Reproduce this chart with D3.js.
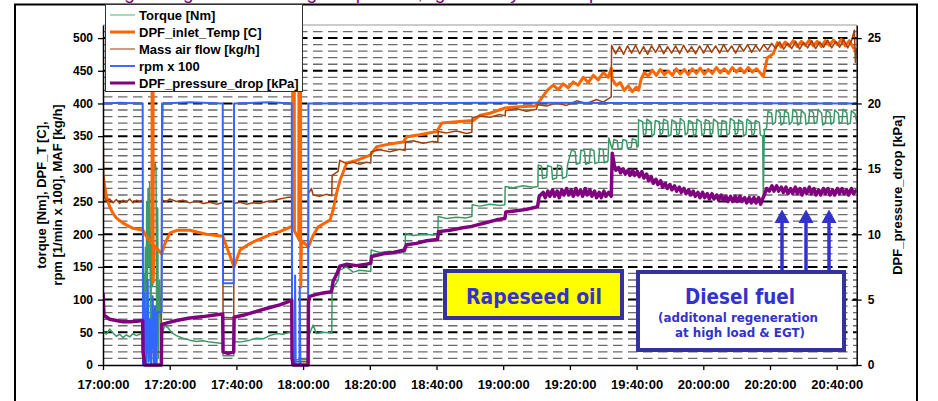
<!DOCTYPE html>
<html><head><meta charset="utf-8">
<script src="https://cdn.jsdelivr.net/npm/d3@7"></script>
<style>
html,body{margin:0;padding:0;background:#fff;}
svg{display:block;}
text{font-family:"Liberation Sans",Arial,sans-serif;font-weight:bold;}
</style></head><body>
<svg id="chart" width="938" height="401"></svg>
<script>
// ---------- DATA (minutes after 17:00:00, value) ----------
const xTickLabels = ["17:00:00","17:20:00","17:40:00","18:00:00","18:20:00","18:40:00","19:00:00","19:20:00","19:40:00","20:00:00","20:20:00","20:40:00"];
const leftTicks = [0,50,100,150,200,250,300,350,400,450,500];
const rightTicks = [0,5,10,15,20,25];
const seriesNames = ["Torque [Nm]","DPF_inlet_Temp [C]","Mass air flow [kg/h]","rpm x 100","DPF_pressure_drop [kPa]"];
const seriesColors = ["#3a9a68","#ff6600","#a3400c","#3366ff","#800080"];
const legendColors = ["#7fd0a4","#ff6600","#c07a5a","#3d6dff","#800080"];
const seriesWidths = [1.5,3,1.5,2,3.5];
const legendWidths = [1.5,3,1.5,2,3];
const leftTitle = ["torque [Nm], DPF_T [C],","rpm [1/min x 100], MAF [kg/h]"];
const rightTitle = "DPF_pressure_drop [kPa]";
const titleText = "Long-term engine test: DPF loading with rapeseed oil, regeneration by diesel fuel operation";

const torque = [[0,52],[1,47],[2,55],[3,49],[4,44],[5,47],[6,42],[7,46],[8,43],[9,48],[10,45],[11,47],[11.9,50],[12.0,40],[12.2,140],[12.4,20],[12.7,180],[12.9,60],[13.1,250],[13.3,100],[13.5,270],[13.8,150],[14.0,280],[14.3,10],[14.6,240],[14.9,120],[15.2,290],[15.6,310],[15.9,300],[16.1,30],[16.4,240],[16.6,10],[17.0,130],[17.4,60],[17.7,48],[18.5,60],[19.5,57],[20.5,50],[22,45],[24,41],[26,38],[28,36],[30,37],[32,35],[34,34],[35.9,33],[36.0,14],[39.2,14],[39.3,36],[41,35],[44,38],[46,41],[48,40],[50,45],[52,48],[54,47],[56.5,51],[56.7,8],[61.5,8],[61.6,43],[62.5,55],[63,61],[64,48],[66,50],[68.6,49],[68.7,115],[70.5,130],[71,145],[73,150],[75,142],[77,145],[80.3,143],[80.4,176],[83,172],[86,174],[89,171],[90.6,173],[90.7,201],[93,198],[96,200],[99,199],[100.4,200],[100.5,227],[103,224],[106,226],[109,225],[110.6,227],[110.7,245],[113,243],[116,246],[119,244],[120.5,245],[120.6,273],[123,271],[126,274],[129,272],[130.4,273],[130.5,306],
[131.5,304],[131.8,285],[133.0,287],[133.3,305],[134.5,303],[134.8,284],[136.0,286],[136.3,306],[137.5,304],[137.8,285],[139.0,288],[139.3,306],
[140.5,329],[141.6,326],[141.9,307],[143.0,309],[143.3,329],[144.4,327],[144.7,307],[145.8,309],[146.1,330],[147.2,328],[147.5,308],[148.6,310],[148.9,331],[150.0,329],[150.3,309],[151.4,312],[151.7,347],[152.4,335],[152.7,330],
[153.2,345],[154.2,343],[154.5,330],[155.6,332],[155.9,345],[157.0,343],[157.3,331],[158.4,333],[158.7,346],[159.8,344],[160.1,333],[160.5,335],
[160.6,375],[161.8,372],[162.1,351],[162.8,354],[163.1,376],[164.3,371],[164.6,350],[165.3,353],[165.6,374],[166.8,372],[167.1,352],[167.8,355],[168.1,376],[169.3,373],[169.6,350],[170.3,352],[170.6,375],[171.8,371],[172.1,351],[172.8,354],[173.1,377],[174.3,372],[174.6,352],[175.3,355],[175.6,374],[176.8,371],[177.1,350],[177.8,353],[178.1,376],[179.3,372],[179.6,351],[180.3,354],[180.6,375],[181.8,373],[182.1,352],[182.8,355],[183.1,376],[184.3,371],[184.6,350],[185.3,352],[185.6,374],[186.8,372],[187.1,351],[187.8,354],[188.1,377],[189.3,373],[189.6,352],[190.3,355],[190.6,375],[191.8,371],[192.1,350],[192.8,353],[193.1,376],[194.3,372],[194.6,351],[195.3,354],[195.6,374],[196.8,371],[197.1,352],[197.8,350],
[198.0,257],[198.3,359],[199.0,363],
[199.4,388],[200.5,385],[200.8,368],[201.6,371],[201.9,390],[203.0,386],[203.3,367],[204.1,370],[204.4,389],[205.5,385],[205.8,368],[206.6,372],[206.9,391],[208.0,386],[208.3,367],[209.1,370],[209.4,389],[210.5,384],[210.8,368],[211.6,371],[211.9,390],[213.0,386],[213.3,369],[214.1,372],[214.4,391],[215.5,385],[215.8,367],[216.6,370],[216.9,389],[218.0,386],[218.3,368],[219.1,371],[219.4,390],[220.5,385],[220.8,369],[221.6,372],[221.9,391],[223.0,386],[223.3,368],[224.1,370],[224.4,389],[225.5,384],[226,372]];

const dpfTemp = [[0,290],[1,258],[2,242],[3,232],[4,225],[6,217],[9,209],[12,206],[13,197],[14.7,186],[14.75,700],[15.0,700],[15.05,127],[15.3,183],[17.6,170],[18.5,185],[20.1,202],[22.2,206],[26,206],[31,200],[35.9,197],[37.5,175],[39.3,150],[41.1,176],[43.5,184],[46.2,191],[51,201],[53,204],[56.1,211],[56.8,212],[57.0,700],[57.3,700],[57.4,205],[58.7,193],[58.8,700],[59.2,700],[59.3,119],[59.5,190],[61.6,181],[63,198],[64.5,211],[68.1,222],[69,237],[70,262],[71.1,283],[73.1,309],[76.1,313],[80.1,321],[82.1,334],[86,338],[90,341],[91.1,349],[95,352],[100.1,357],[101.6,370],[106,372],[111,374],[113.1,382],[116,385],[120.6,393],[125,395],[129.6,396],[131.1,405],
[133.2,420],[135,428],[136.5,421],[138,430],[139.5,424],[141,433],[142.5,428],[144,440],[145.5,432],[147,443],[148.5,436],[150,447],[151.5,440],[152.4,454],[152.7,437],[153.9,428],[155.1,432],[156.3,420],[157.5,427],[158.7,418],[159.9,425],[160.6,420],[161.4,438],[162.3,447],
[163.5,442],[164.7,451],[165.9,443],[167.1,452],[168.3,444],[169.5,450],[170.7,443],[171.9,453],[173.1,445],[174.3,452],[175.5,444],[176.7,453],[177.9,446],[179.1,454],[180.3,445],[181.5,452],[182.7,446],[183.9,455],[185.1,447],[186.3,453],[187.5,446],[188.7,455],[189.9,448],[191.1,454],[192.3,447],[193.5,455],[194.7,448],[196.0,453],[197.2,446],[198.0,441],[199.2,470],[201.0,476],[202.2,493],[203.4,486],[204.6,494],[205.8,488],[207,496],[208.2,487],[209.4,495],[210.6,489],[211.8,497],[213,488],[214.2,495],[215.4,487],[216.6,496],[217.8,489],[219,497],[220.2,490],[221.4,498],[222.6,488],[223.8,496],[225,485],[226,482]];

const massAirFlow = [[0,250],[0.1,335],[0.3,258],[1,250],[2,254],[3,248],[4,253],[5,247],[6,252],[7,249],[8,254],[9,248],[10,252],[11,250],[11.9,252],[12.0,20],[17.5,20],[17.6,283],[17.8,252],[19,250],[20,254],[22,250],[24,252],[26,248],[28,251],[30,247],[32,249],[34,246],[35.9,248],[36.0,73],[39.2,72],[39.3,247],[41,249],[43,246],[45,248],[47,247],[49,250],[51,251],[53,254],[55,256],[56.6,257],[56.7,5],[61.5,5],[61.6,262],[62.5,270],[63,260],[65,258],[67,261],[68.6,259],[68.7,290],[70.5,296],[71,313],[73,308],[75,310],[77,307],[79,310],[80.3,309],[80.4,326],[83,329],[86,326],[89,330],[90.6,328],[90.7,341],[93,343],[96,339],[99,342],[100.4,341],[100.5,357],[103,355],[106,358],[109,354],[110.6,356],[110.7,378],[113,381],[116,379],[119,383],[120.6,381],[120.7,389],[124,392],[127,388],[130,391],[130.3,398],[133,396],[136,401],[139,397],[142,404],[145,400],[148,406],[150,402],[152.4,410],[152.5,489],
[153.7,476],[154.9,487],[156.1,475],[157.3,488],[158.5,477],[159.7,489],[160.9,476],[162.1,487],[163.3,475],[164.5,488],[165.7,478],[166.9,489],[168.1,476],[169.3,487],[170.5,477],[171.7,488],[172.9,476],[174.1,489],[175.3,478],[176.5,487],[177.7,476],[178.9,488],[180.1,477],[181.3,489],[182.5,478],[183.7,488],[184.9,477],[186.1,490],[187.3,479],[188.5,488],[189.7,477],[190.9,489],[192.1,480],[193.3,490],[194.5,478],[195.7,489],[196.9,480],[198.1,490],[199.3,482],[200.5,492],[201.7,484],[202.9,494],[204.1,483],[205.3,492],[206.5,484],[207.7,495],[208.9,483],[210.1,493],[211.3,485],[212.5,496],[213.7,484],[214.9,494],[216.1,486],[217.3,497],[218.5,485],[219.7,495],[220.9,486],[222.1,498],[223.3,485],[224.5,497],[225.3,512],[225.6,463],[226,484]];

const rpm = [[0,400],[5,401],[11.9,400],[12.0,0],[12.3,110],[12.5,5],[12.8,85],[13.0,0],[13.4,130],[13.7,5],[14.1,70],[14.4,0],[14.9,105],[15.2,0],[15.6,90],[15.8,0],[16.1,0],[16.2,81],[17.6,81],[17.7,400],[17.8,362],[17.9,400],[26,402],[35.9,400],[36.0,125],[39.2,125],[39.3,400],[50,402],[56.6,400],[56.7,0],[57.5,0],[57.6,137],[57.8,0],[58.9,0],[59.0,119],[59.2,0],[61.5,0],[61.6,400],[120,401],[226,400]];

const pressureDrop = [[0,5.5],[0.3,3.8],[2,3.5],[4,3.4],[6,3.3],[8,3.3],[10,3.35],[11.9,3.4],[12.0,1.0],[12.3,0.4],[12.5,0],[17.5,0],[17.6,3.1],[19,3.2],[22,3.4],[26,3.6],[30,3.7],[34,3.85],[35.9,3.9],[36.0,1.0],[37.5,0.9],[39.2,1.0],[39.3,3.65],[42,3.8],[46,4.1],[50,4.4],[53,4.6],[56.6,4.95],[56.7,0.5],[57.0,0],[61.5,0],[61.6,4.8],[62,5.25],[64,5.4],[66,5.5],[68.5,5.6],[69,6.4],[70,6.9],[71,7.55],[73,7.7],[76,7.6],[79,7.7],[80.3,7.8],[80.5,8.3],[84,8.5],[87,8.6],[90.4,8.8],[91,9.2],[94,9.3],[97,9.5],[100.3,9.6],[100.6,10.2],[104,10.3],[107,10.45],[110.5,10.6],[112,10.7],[115,10.9],[118,11.1],[120.5,11.2],[120.8,11.7],[124,11.8],[127,11.9],[130.3,12.1],[130.8,12.9],
[132.0,13.2],[132.6,12.8],[133.4,13.3],[134.0,12.9],[134.8,13.4],[135.4,12.9],[136.2,13.3],[136.8,12.8],[137.6,13.4],[138.2,13.0],[139.0,13.5],[139.6,13.0],[140.4,13.4],[141.0,12.9],[141.8,13.5],[142.4,13.0],[143.2,13.4],[143.8,12.9],[144.6,13.5],[145.2,13.0],[146.0,13.4],[146.6,12.9],[147.4,13.3],[148.0,12.8],[148.8,13.2],[149.4,12.8],[150.2,13.3],[150.8,12.9],[151.6,13.2],[152.4,12.9],[152.7,16.2],[153.3,15.3],[153.8,14.9],
[154.6,15.1],[155.2,14.7],[156.0,15.0],[156.6,14.6],[157.4,14.9],[158.0,14.5],[158.8,14.9],[159.4,14.5],[160.2,14.8],[160.8,14.4],[161.6,14.8],[162.2,14.3],[163.0,14.6],[163.6,14.1],[164.4,14.4],[165.0,13.9],[165.8,14.2],[166.4,13.8],[167.2,14.1],[167.8,13.6],[168.6,13.9],[169.2,13.5],[170.0,13.8],[170.6,13.4],[171.4,13.7],[172.0,13.3],[172.8,13.6],[173.4,13.2],[174.2,13.5],[174.8,13.1],[175.6,13.4],[176.2,13.0],[177.0,13.3],[177.6,12.9],[178.4,13.2],[179.0,12.8],[179.8,13.2],[180.4,12.8],[181.2,13.1],[181.8,12.7],[182.6,13.1],[183.2,12.7],[184.0,13.0],[184.6,12.6],[185.4,13.0],[186.0,12.6],[186.8,12.9],[187.4,12.5],[188.2,12.9],[188.8,12.5],[189.6,12.9],[190.2,12.5],[191.0,12.9],[191.6,12.5],[192.4,12.8],[193.0,12.4],[193.8,12.8],[194.4,12.4],[195.2,12.8],[195.8,12.4],[196.6,12.8],[197.2,12.3],[197.8,12.7],[198.3,13.0],[199.0,13.5],[199.8,13.3],[200.6,13.7],[201.2,13.3],[202.0,13.7],[202.6,13.3],[203.4,13.6],[204.0,13.2],[204.8,13.6],[205.4,13.1],[206.2,13.5],[206.8,13.1],[207.6,13.6],[208.2,13.1],[209.0,13.5],[209.6,13.0],[210.4,13.5],[211.0,13.1],[211.8,13.6],[212.4,13.1],[213.2,13.5],[213.8,13.0],[214.6,13.4],[215.2,13.0],[216.0,13.5],[216.6,13.1],[217.4,13.5],[218.0,13.0],[218.8,13.4],[219.4,13.0],[220.2,13.5],[220.8,13.1],[221.6,13.5],[222.2,13.1],[223.0,13.4],[223.6,13.0],[224.4,13.5],[225.0,13.1],[226.0,13.4]];

// ---------- DRAWING ----------
const svg = d3.select("#chart");
const base = new Date(2000,0,1,17,0,0).getTime();
const toDate = m => new Date(base + m*60000);
const parseT = d3.timeParse("%H:%M:%S");
const xTicks = xTickLabels.map(s => { const p = parseT(s); return new Date(2000,0,1,p.getHours(),p.getMinutes(),p.getSeconds()); });

const L = 103, R = 856.7, T = 25, B = 365;
const x = d3.scaleTime().domain([toDate(0), toDate(226)]).range([L, R]);
const y = d3.scaleLinear().domain([0, 520]).range([B, T]);
const y2 = d3.scaleLinear().domain([0, 26]).range([B, T]);

// title (cut off at top)
svg.append("text").attr("x", 370).attr("y", -1).attr("text-anchor","middle")
  .attr("fill","#800080").style("font-size","19px").style("font-weight","normal")
  .attr("textLength", 540).text(titleText);

// outer frame
svg.append("path").attr("d","M15,401V4.5H917V401").attr("fill","none").attr("stroke","#000").attr("stroke-width",2);

// gridlines
const g = svg.append("g");
const minor = d3.range(10, 520, 10).filter(v => v % 50 !== 0);
g.selectAll("line.minor").data(minor).join("line")
  .attr("x1", L).attr("x2", R).attr("y1", d => y(d)).attr("y2", d => y(d))
  .attr("stroke","#6a6a6a").attr("stroke-width",1.3).attr("stroke-dasharray","9.5,5.5");
g.selectAll("line.major").data(leftTicks.filter(v => v > 0)).join("line")
  .attr("x1", L).attr("x2", R).attr("y1", d => y(d)).attr("y2", d => y(d))
  .attr("stroke","#000").attr("stroke-width",2).attr("stroke-dasharray","9.5,5.5");
g.append("line").attr("x1",L).attr("x2",R).attr("y1",y(520)).attr("y2",y(520))
  .attr("stroke","#999").attr("stroke-width",1);

// clip
svg.append("defs").append("clipPath").attr("id","clip").append("rect")
  .attr("x", L).attr("y", T).attr("width", R - L).attr("height", B - T + 3);

const lineL = d3.line().x(d => x(toDate(d[0]))).y(d => y(d[1]));
const lineR = d3.line().x(d => x(toDate(d[0]))).y(d => y2(d[1]));
const plot = svg.append("g").attr("clip-path","url(#clip)");
const seriesData = [torque, dpfTemp, massAirFlow, rpm];
seriesData.forEach((s, i) => {
  plot.append("path").datum(s).attr("d", lineL).attr("fill","none")
    .attr("stroke", seriesColors[i]).attr("stroke-width", seriesWidths[i]).attr("stroke-linejoin","round");
});
plot.append("path").datum(pressureDrop).attr("d", lineR).attr("fill","none")
  .attr("stroke", seriesColors[4]).attr("stroke-width", seriesWidths[4]).attr("stroke-linejoin","round");

// axes
const axL = svg.append("g").attr("transform",`translate(${L},0)`)
  .call(d3.axisLeft(y).tickValues(leftTicks).tickSize(5).tickSizeOuter(0).tickPadding(5));
const axR = svg.append("g").attr("transform",`translate(${R},0)`)
  .call(d3.axisRight(y2).tickValues(rightTicks).tickSize(5).tickSizeOuter(0).tickPadding(6));
axR.selectAll(".tick line").attr("x1",-5);
const axB = svg.append("g").attr("transform",`translate(0,${B})`)
  .call(d3.axisBottom(x).tickValues(xTicks).tickFormat(d3.timeFormat("%H:%M:%S")).tickSize(5).tickSizeOuter(0).tickPadding(10));
[axL, axR, axB].forEach(a => {
  a.select(".domain").attr("stroke","#000").attr("stroke-width",1.5);
  a.selectAll(".tick line").attr("stroke","#000").attr("stroke-width",1.3);
  a.selectAll("text").attr("fill","#000").style("font-family","'Liberation Sans',Arial,sans-serif").style("font-weight","bold");
});
axL.selectAll("text").style("font-size","12px");
axR.selectAll("text").style("font-size","12px");
axB.selectAll("text").style("font-size","13px");

// axis titles
leftTitle.forEach((t, i) => {
  svg.append("text").attr("transform",`translate(${46 + i*16},195) rotate(-90)`)
    .attr("text-anchor","middle").style("font-size","13px").attr("fill","#000").text(t);
});
svg.append("text").attr("transform","translate(902,195) rotate(-90)")
  .attr("text-anchor","middle").style("font-size","13px").attr("fill","#000").text(rightTitle);

// legend
const lg = svg.append("g");
lg.append("rect").attr("x",105.5).attr("y",4.5).attr("width",197).attr("height",87)
  .attr("fill","#fff").attr("stroke","#333").attr("stroke-width",1);
seriesNames.forEach((n, i) => {
  const yy = 15 + i*17;
  lg.append("line").attr("x1",110).attr("x2",135).attr("y1",yy).attr("y2",yy)
    .attr("stroke", legendColors[i]).attr("stroke-width", legendWidths[i]);
  lg.append("text").attr("x",139).attr("y",yy+4.5).style("font-size","13px").attr("fill","#000").text(n);
});

// annotation boxes
const boxStroke = "#333399", boxText = "#3333cc";
svg.append("rect").attr("x",445).attr("y",271).attr("width",177).attr("height",47)
  .attr("fill","#ffff00").attr("stroke",boxStroke).attr("stroke-width",4);
svg.append("text").attr("x",534).attr("y",304).attr("text-anchor","middle")
  .style("font-family","Verdana,'DejaVu Sans',sans-serif").style("font-size","21px")
  .attr("textLength",136).attr("lengthAdjust","spacingAndGlyphs").attr("fill",boxText).text("Rapeseed oil");
svg.append("rect").attr("x",638).attr("y",272).attr("width",206).attr("height",78)
  .attr("fill","#fff").attr("stroke",boxStroke).attr("stroke-width",4);
svg.append("text").attr("x",740).attr("y",304).attr("text-anchor","middle")
  .style("font-family","Verdana,'DejaVu Sans',sans-serif").style("font-size","21px")
  .attr("textLength",110).attr("lengthAdjust","spacingAndGlyphs").attr("fill",boxText).text("Diesel fuel");
svg.append("text").attr("x",738).attr("y",322).attr("text-anchor","middle")
  .style("font-family","Verdana,'DejaVu Sans',sans-serif").style("font-size","12.5px")
  .attr("textLength",160).attr("lengthAdjust","spacingAndGlyphs").attr("fill",boxText).text("(additonal regeneration");
svg.append("text").attr("x",740).attr("y",337).attr("text-anchor","middle")
  .style("font-family","Verdana,'DejaVu Sans',sans-serif").style("font-size","12.5px")
  .attr("textLength",130).attr("lengthAdjust","spacingAndGlyphs").attr("fill",boxText).text("at high load & EGT)");

// arrows
[782, 806, 829].forEach(ax => {
  svg.append("line").attr("x1",ax).attr("x2",ax).attr("y1",270).attr("y2",221)
    .attr("stroke",boxText).attr("stroke-width",3.5);
  svg.append("path").attr("d",`M${ax-7.5},223L${ax},209.5L${ax+7.5},223Z`).attr("fill",boxText);
});
</script>
</body></html>
